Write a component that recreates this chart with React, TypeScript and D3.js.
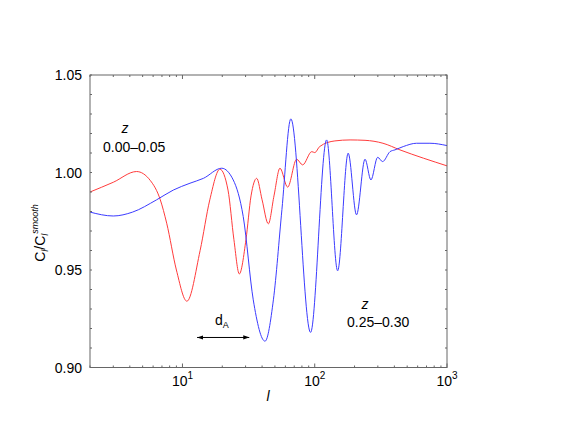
import React from "react";
import * as d3 from "d3";

// multipole l and ratio C_l / C_l^smooth
const redL = [2, 3, 4.5, 5.7, 6.8, 7.6, 9.0, 10.8, 13.6, 16.1, 19.2, 22.1, 24.5, 26.9, 30.2, 33, 36.4, 40, 44.6, 49.2, 54.6, 62.4, 73, 81, 95, 100, 109, 142, 185, 240, 328, 441, 1000];
const redV = [0.990, 0.995, 1.0005, 0.996, 0.986, 0.974, 0.950, 0.934, 0.960, 0.986, 1.0017, 0.991, 0.9655, 0.948, 0.9655, 0.988, 0.997, 0.986, 0.9737, 0.988, 1.0022, 0.9925, 1.0068, 1.0039, 1.0107, 1.0102, 1.0133, 1.0162, 1.0167, 1.0165, 1.015, 1.0116, 1.0034];

const blueL = [2, 3, 4.2, 6.38, 8.53, 11.4, 14.4, 19.8, 24.2, 28.8, 34.3, 42.1, 48.7, 56.5, 66, 93, 123, 149, 179, 207, 240, 266, 299, 326, 371, 404, 467, 589, 743, 1000];
const blueV = [0.9797, 0.9777, 0.9797, 0.986, 0.991, 0.9945, 0.997, 1.0022, 0.9962, 0.9774, 0.9347, 0.9135, 0.9347, 0.981, 1.0275, 0.918, 1.0167, 0.9496, 1.0099, 0.9783, 1.0068, 0.9962, 1.0078, 1.0056, 1.0107, 1.0116, 1.0133, 1.015, 1.015, 1.0138];

const yLabels = [0.9, 0.95, 1.0, 1.05];
const arrowL = [12.9, 32];
const arrowV = 0.9154;

const font = "'Liberation Sans', Arial, sans-serif";

const App = () => {
  const width = 575;
  const height = 444;
  const margin = { top: 75, right: 128, bottom: 76.5, left: 90 };

  const x = d3.scaleLog().domain([2, 1000]).range([margin.left, width - margin.right]);
  const y = d3.scaleLinear().domain([0.9, 1.05]).range([height - margin.bottom, margin.top]);

  const line = d3
    .line<[number, number]>()
    .x((d) => x(d[0]))
    .y((d) => y(d[1]))
    .curve(d3.curveMonotoneX);

  const red = redL.map((l, i) => [l, redV[i]] as [number, number]);
  const blue = blueL.map((l, i) => [l, blueV[i]] as [number, number]);

  const x0 = margin.left;
  const x1 = width - margin.right;
  const y0 = height - margin.bottom;
  const y1 = margin.top;

  const xTicks = x.ticks();
  const yTicks = y.ticks(15);
  const isMajor = (t: number) => Math.abs(Math.log10(t) - Math.round(Math.log10(t))) < 1e-9;
  const axisColor = "#666";

  return (
    <svg width={width} height={height} style={{ position: "absolute", left: 0, top: 0 }} fontFamily={font}>
      <defs>
        <clipPath id="plot">
          <rect x={x0} y={y1} width={x1 - x0} height={y0 - y1} />
        </clipPath>
        <marker id="ah" viewBox="0 0 10 10" refX="10" refY="5" markerWidth="6" markerHeight="6" orient="auto-start-reverse">
          <path d="M0,1.5 L10,5 L0,8.5 z" fill="#000" />
        </marker>
      </defs>

      {/* curves */}
      <g clipPath="url(#plot)">
        <path d={line(red) ?? ""} fill="none" stroke="#ff3b3b" strokeWidth={1} />
        <path d={line(blue) ?? ""} fill="none" stroke="#3b3bff" strokeWidth={1} />
      </g>

      {/* frame */}
      <rect x={x0} y={y1} width={x1 - x0} height={y0 - y1} fill="none" stroke={axisColor} strokeWidth={1} />

      {/* x ticks, bottom and top, pointing in */}
      {xTicks.map((t) => {
        const len = isMajor(t) ? 4 : 2;
        return (
          <g key={"x" + t}>
            <line x1={x(t)} x2={x(t)} y1={y0} y2={y0 - len} stroke={axisColor} />
            <line x1={x(t)} x2={x(t)} y1={y1} y2={y1 + len} stroke={axisColor} />
          </g>
        );
      })}
      {xTicks.filter((t) => isMajor(t) && t >= 10).map((t) => (
        <text key={"xl" + t} x={x(t)} y={y0 + 18} fontSize={14} textAnchor="middle">
          10<tspan fontSize={10} dy={-7}>{Math.round(Math.log10(t))}</tspan>
        </text>
      ))}

      {/* y ticks, left and right */}
      {yTicks.map((t) => {
        const len = 2;
        return (
          <g key={"y" + t}>
            <line x1={x0} x2={x0 + len} y1={y(t)} y2={y(t)} stroke={axisColor} />
            <line x1={x1} x2={x1 - len} y1={y(t)} y2={y(t)} stroke={axisColor} />
          </g>
        );
      })}
      {yLabels.map((t) => (
        <text key={"yl" + t} x={x0 - 8} y={y(t) + 5} fontSize={14} textAnchor="end">
          {t.toFixed(2)}
        </text>
      ))}

      {/* axis titles */}
      <text x={268} y={401} fontSize={14} fontStyle="italic" textAnchor="middle">l</text>
      <text transform="translate(45,233) rotate(-90)" fontSize={14} textAnchor="middle">
        C<tspan fontSize={9} fontStyle="italic" dy={3}>l</tspan>
        <tspan dy={-3}>/C</tspan>
        <tspan fontSize={9} fontStyle="italic" dy={3}>l</tspan>
        <tspan fontSize={9} fontStyle="italic" dy={-10}>smooth</tspan>
      </text>

      {/* redshift labels */}
      <text x={125} y={133} fontSize={14} fontStyle="italic" textAnchor="middle">z</text>
      <text x={103} y={152} fontSize={14}>0.00–0.05</text>
      <text x={365} y={309} fontSize={14} fontStyle="italic" textAnchor="middle">z</text>
      <text x={347} y={327} fontSize={14}>0.25–0.30</text>

      {/* d_A arrow */}
      <text x={215} y={325} fontSize={14}>
        d<tspan fontSize={9} dy={3}>A</tspan>
      </text>
      <line
        x1={x(arrowL[0])}
        x2={x(arrowL[1])}
        y1={y(arrowV)}
        y2={y(arrowV)}
        stroke="#000"
        strokeWidth={1}
        markerStart="url(#ah)"
        markerEnd="url(#ah)"
      />
    </svg>
  );
};

export default App;
